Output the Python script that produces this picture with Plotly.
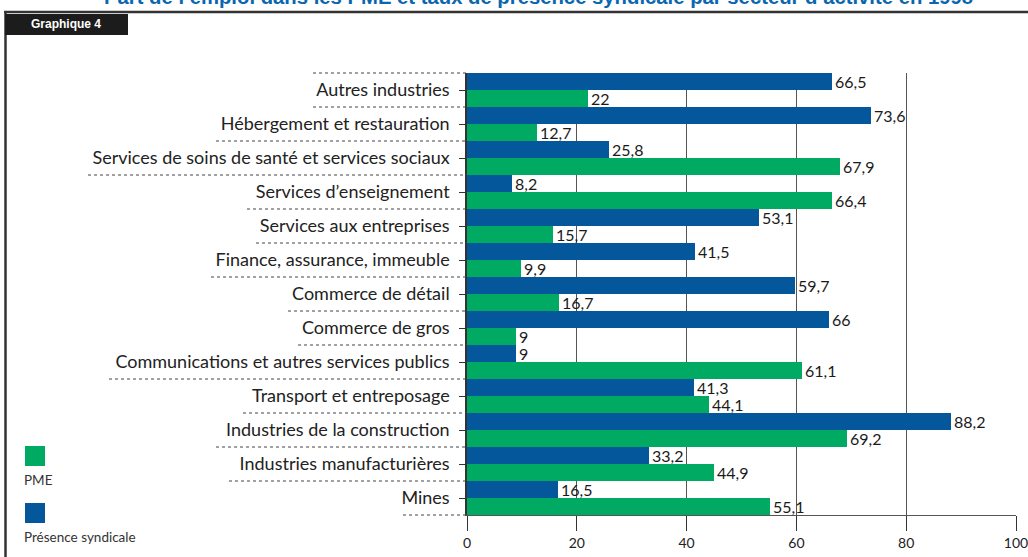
import plotly.graph_objects as go

categories = [
    "Autres industries",
    "Hébergement et restauration",
    "Services de soins de santé et services sociaux",
    "Services d’enseignement",
    "Services aux entreprises",
    "Finance, assurance, immeuble",
    "Commerce de détail",
    "Commerce de gros",
    "Communications et autres services publics",
    "Transport et entreposage",
    "Industries de la construction",
    "Industries manufacturières",
    "Mines",
]
presence_syndicale = [66.5, 73.6, 25.8, 8.2, 53.1, 41.5, 59.7, 66, 9, 41.3, 88.2, 33.2, 16.5]
pme = [22, 12.7, 67.9, 66.4, 15.7, 9.9, 16.7, 9, 61.1, 44.1, 69.2, 44.9, 55.1]
x_ticks = [0, 20, 40, 60, 80, 100]

title_text = "Part de l’emploi dans les PME et taux de présence syndicale par secteur d’activité en 1998"

# styling / layout (pixels)
W, H = 1028, 557
L, R, T, B = 467, 12, 73, 42
PW, PH = W - L - R, H - T - B
underline_start_px = [313, 216, 88, 247, 256, 211, 288, 298, 109, 243, 216, 229, 403]

BLUE = "#04579b"
GREEN = "#00aa63"
FONT = "Lato"


def px2x(px):
    return (px - L) / PW


def py2y(py):
    return (H - B - py) / PH


def fmt(v):
    return f"{v:g}".replace(".", ",")


fig = go.Figure()
fig.add_trace(go.Bar(
    y=categories, x=presence_syndicale, orientation="h", name="Présence syndicale",
    marker=dict(color=BLUE, line=dict(width=0)),
    text=[fmt(v) for v in presence_syndicale], textposition="outside",
    textfont=dict(family=FONT, size=16, color="#1a1a1a"), cliponaxis=False,
    constraintext="none", showlegend=False,
))
fig.add_trace(go.Bar(
    y=categories, x=pme, orientation="h", name="PME",
    marker=dict(color=GREEN, line=dict(width=0)),
    text=[fmt(v) for v in pme], textposition="outside",
    textfont=dict(family=FONT, size=16, color="#1a1a1a"), cliponaxis=False,
    constraintext="none", showlegend=False,
))

shapes = []
annotations = []

# dotted separators under each category label
n = len(categories)
for k in range(n + 1):
    idx = 0 if k == 0 else k - 1
    yk = 1 - k / n
    shapes.append(dict(type="line", xref="paper", yref="paper",
                       x0=px2x(underline_start_px[idx]), x1=0, y0=yk, y1=yk,
                       line=dict(color="#444", width=1, dash="dot")))

# frame
shapes.append(dict(type="line", xref="paper", yref="paper",
                   x0=px2x(4), x1=px2x(W), y0=py2y(12), y1=py2y(12),
                   line=dict(color="#333", width=2.5)))
shapes.append(dict(type="line", xref="paper", yref="paper",
                   x0=px2x(5.5), x1=px2x(5.5), y0=py2y(12), y1=py2y(H),
                   line=dict(color="#333", width=2.5)))
# "Graphique 4" box
shapes.append(dict(type="rect", xref="paper", yref="paper",
                   x0=px2x(5), x1=px2x(128), y0=py2y(14), y1=py2y(35),
                   fillcolor="#1c1c1c", line=dict(width=0)))
annotations.append(dict(text="<b>Graphique 4</b>", xref="paper", yref="paper",
                        x=px2x(66), y=py2y(24.5), xanchor="center", yanchor="middle",
                        showarrow=False, font=dict(family="Liberation Sans", size=12, color="white")))

# legend
shapes.append(dict(type="rect", xref="paper", yref="paper",
                   x0=px2x(25), x1=px2x(45), y0=py2y(446), y1=py2y(466),
                   fillcolor=GREEN, line=dict(width=0)))
shapes.append(dict(type="rect", xref="paper", yref="paper",
                   x0=px2x(25), x1=px2x(45), y0=py2y(503), y1=py2y(523),
                   fillcolor=BLUE, line=dict(width=0)))
annotations.append(dict(text="PME", xref="paper", yref="paper",
                        x=px2x(22), y=py2y(480), xanchor="left", yanchor="middle",
                        showarrow=False, font=dict(family=FONT, size=13.5, color="#333")))
annotations.append(dict(text="Présence syndicale", xref="paper", yref="paper",
                        x=px2x(22), y=py2y(537), xanchor="left", yanchor="middle",
                        showarrow=False, font=dict(family=FONT, size=13.5, color="#333")))

# title (cut at top as in reference)
annotations.append(dict(text="<b>" + title_text + "</b>", xref="paper", yref="paper",
                        x=px2x(538), y=py2y(10), xanchor="center", yanchor="bottom",
                        showarrow=False, font=dict(family="Liberation Sans", size=20.3, color="#0a66b0")))

fig.update_layout(
    width=W, height=H, autosize=False,
    margin=dict(l=L, r=R, t=T, b=B, pad=0, autoexpand=False),
    paper_bgcolor="white", plot_bgcolor="white",
    barmode="group", bargap=0, bargroupgap=0,
    font=dict(family=FONT, color="#222"),
    shapes=shapes, annotations=annotations,
    xaxis=dict(range=[0, 100], tickvals=x_ticks, ticktext=[str(t) for t in x_ticks],
               showgrid=True, gridcolor="#555", gridwidth=1.3,
               ticks="outside", ticklen=15, tickcolor="#333", tickwidth=1.3,
               showline=True, linecolor="#555", linewidth=1.3, zeroline=False,
               automargin=False, ticklabeloverflow="allow",
               tickfont=dict(family=FONT, size=14, color="#222"), fixedrange=True),
    yaxis=dict(autorange="reversed", type="category",
               ticks="outside", ticklen=6, tickcolor="#333", tickwidth=1.3,
               showline=True, linecolor="#333", linewidth=1.5, showgrid=False,
               ticklabelstandoff=6, automargin=False,
               tickfont=dict(family=FONT, size=18, color="#222"), fixedrange=True),
)

fig.write_html("out.html", config={"displayModeBar": False},
               post_script="document.body.style.margin='0';document.body.style.overflow='hidden';")
